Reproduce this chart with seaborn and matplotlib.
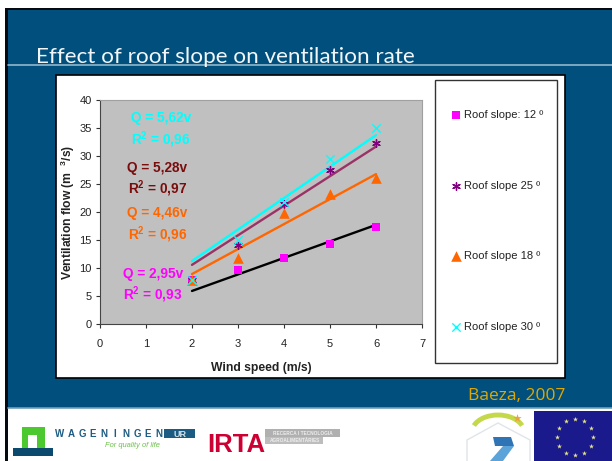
import numpy as np
import pandas as pd
import matplotlib
matplotlib.use("Agg")
import matplotlib.pyplot as plt
import seaborn as sns
from matplotlib.patches import Rectangle, Arc, Polygon

W, H = 612, 461

wind = [2, 3, 4, 5, 6]
labels = ["Roof slope: 12 º", "Roof slope 25 º", "Roof slope 18 º", "Roof slope 30 º"]
flow_12 = [7.8, 9.7, 11.7, 14.2, 17.3]
flow_25 = [7.8, 14.1, 21.5, 27.5, 32.3]
flow_18 = [7.8, 11.8, 19.8, 23.2, 26.0]
flow_30 = [7.8, 15.0, 21.8, 29.4, 35.0]
fit_12 = [5.9, 8.85, 11.8, 14.75, 17.7]
fit_25 = [10.56, 15.84, 21.12, 26.4, 31.68]
fit_18 = [8.92, 13.38, 17.84, 22.3, 26.76]
fit_30 = [11.24, 16.86, 22.48, 28.1, 33.72]

sns.set_theme(style="white")
plt.rcParams["font.family"] = ["Liberation Sans", "DejaVu Sans"]
plt.rcParams["mathtext.fontset"] = "custom"
plt.rcParams["mathtext.bf"] = "Liberation Sans:bold"
plt.rcParams["mathtext.rm"] = "Liberation Sans"

BLUE = "#004f7c"
colors = ["#ff00ff", "#800080", "#ff6600", "#00ffff"]
markers = ["s", (6, 2, 0), "^", "x"]
sizes = [26, 30, 58, 36]

fig = plt.figure(figsize=(W / 100, H / 100), dpi=100, facecolor="white")


def px(x, y):
    return x / W, 1 - y / H


# slide background, drawn in pixel coordinates
bg = fig.add_axes([0, 0, 1, 1], zorder=0)
bg.set_xlim(0, W)
bg.set_ylim(H, 0)
bg.axis("off")
bg.add_patch(Rectangle((5, 8), W, 420, fc=BLUE, ec="none"))
bg.add_patch(Rectangle((5, 8), W, 2.5, fc="#050a10", ec="none"))
bg.add_patch(Rectangle((8, 408), W, H, fc="white", ec="none"))
bg.add_patch(Rectangle((5, 8), 2.8, H, fc="#050a10", ec="none"))
bg.plot([8, W], [65, 65], color="#8fb8cc", lw=1.2)
bg.plot([8, W], [408, 408], color="#6f9fb8", lw=1.2)
bg.add_patch(Rectangle((56, 75), 509, 303, fc="white", ec="black", lw=1.2))
bg.add_patch(Rectangle((435, 80), 122, 283, fc="white", ec="#333333", lw=1))

# logos
bg.add_patch(Rectangle((22, 427), 23, 21, fc="#4cc92f", ec="none"))
bg.add_patch(Rectangle((28, 435), 9, 13, fc="white", ec="none"))
bg.add_patch(Rectangle((13, 448), 40, 8, fc="#0b4a6e", ec="none"))
bg.add_patch(Rectangle((164, 429), 31, 9, fc="#1d5c82", ec="none"))
bg.add_patch(Rectangle((265, 429), 75, 8, fc="#b0b0b0", ec="none"))
bg.add_patch(Rectangle((265, 437), 58, 7, fc="#bdbdbd", ec="none"))
bg.add_patch(Polygon([(467, 461), (467, 440), (498, 423), (530, 440), (530, 461)], closed=False, fc="none",
                     ec="#dfe5e8", lw=1))
bg.add_patch(Arc((498, 432), 52, 34, theta1=195, theta2=345, ec="#c5d84a", lw=3.5))
bg.scatter([517], [418], s=40, marker="*", color="#e8a33a", lw=0, zorder=3)
bg.add_patch(Polygon([(493, 437), (511, 437), (514, 446), (495, 446)], fc="#2f75b5", ec="none"))
bg.add_patch(Polygon([(503, 446), (514, 446), (503, 461), (490, 461)], fc="#5ba3d9", ec="none"))
bg.add_patch(Rectangle((534, 411), 78, 50, fc="#1a1a8c", ec="none"))
star_angle = np.linspace(0, 2 * np.pi, 12, endpoint=False)
bg.scatter(575 + 18 * np.cos(star_angle), 437 + 18 * np.sin(star_angle), s=14, marker="*", color="#e6e68a", lw=0)

# chart
ax = fig.add_axes([100 / W, 1 - 324 / H, 322 / W, 224 / H], zorder=1)
ax.set_facecolor("#c0c0c0")

series = [flow_12, flow_25, flow_18, flow_30]
fits = [fit_12, fit_25, fit_18, fit_30]
fit_colors = ["black", "#993366", "#ff6600", "#00ffff"]
for fit, c in zip(fits, fit_colors):
    sns.lineplot(x=wind, y=fit, color=c, lw=1.7, ax=ax, zorder=3)
for vals, c, m, s, lab in zip(series, colors, markers, sizes, labels):
    lw = 1 if m == "x" or isinstance(m, tuple) else 0
    sns.scatterplot(x=wind, y=vals, color=c, marker=m, s=s, linewidth=lw, ax=ax, zorder=4, label=lab)

ax.set_xlim(0, 7)
ax.set_ylim(0, 40)
ax.set_xticks(range(0, 8))
ax.set_yticks(range(0, 41, 5))
ax.tick_params(axis="both", length=3, width=0.8, color="#333333", labelsize=8, labelcolor="#222222",
               bottom=True, left=True)
ax.tick_params(axis="x", pad=7.5)
ax.tick_params(axis="y", pad=3)
for side in ["top", "right"]:
    ax.spines[side].set_color("#a0a0a0")
    ax.spines[side].set_linewidth(0.8)
for side in ["left", "bottom"]:
    ax.spines[side].set_color("#444444")
    ax.spines[side].set_linewidth(0.8)
ax.set_xlabel("Wind speed (m/s)", fontsize=8.7, fontweight="bold", labelpad=9.5, color="#222222")
ax.set_ylabel("Ventilation flow (m  $\\mathbf{^3}$/s)", fontsize=8.7, fontweight="bold", labelpad=1.5, color="#222222")

ax.legend(loc="upper left", bbox_to_anchor=(443.5 / W, 1 - 104.5 / H), bbox_transform=fig.transFigure, frameon=False,
          fontsize=8, labelspacing=5.45, handletextpad=0.1, handlelength=1.2, borderpad=0, labelcolor="#222222")

# equations next to the lines
eq_text = ["Q = 5,62v", "R$\\mathbf{^2}$ = 0,96", "Q = 5,28v", "R$\\mathbf{^2}$ = 0,97",
           "Q = 4,46v", "R$\\mathbf{^2}$ = 0,96", "Q = 2,95v", "R$\\mathbf{^2}$ = 0,93"]
eq_x = [161, 161, 157, 158, 157, 158, 153, 153]
eq_y = [118, 140, 168, 189, 213, 235, 274, 295]
eq_col = ["#00ffff", "#00ffff", "#7b0c0c", "#7b0c0c", "#ff6600", "#ff6600", "#ff00ff", "#ff00ff"]
for t, x, y, c in zip(eq_text, eq_x, eq_y, eq_col):
    fig.text(*px(x, y), t, color=c, fontsize=9.8, fontweight="bold", ha="center", va="center")

fig.text(*px(36, 63), "Effect of roof slope on ventilation rate", color="#f2f6f8", fontsize=16.2,
         family="Lato", fontweight="normal", va="baseline")
fig.text(*px(517, 396), "Baeza, 2007", color="#e0a800", fontsize=12.5, family="Open Sans", ha="center", va="center")

wur_letters = "WAGENINGEN"
for i, ch in enumerate(wur_letters):
    fig.text(*px(60 + i * 11, 434), ch, color="#1d5c82", fontsize=7, fontweight="bold", ha="center", va="center")
fig.text(*px(180, 434), "UR", color="#d5e3ea", fontsize=6.5, fontweight="bold", ha="center", va="center")
fig.text(*px(132, 445), "For quality of life", color="#6cc24a", fontsize=5.4, style="italic", ha="center", va="center")
fig.text(*px(236, 452), "IRTA", color="#cc0033", fontsize=18.5, fontweight="bold", ha="center", va="baseline")
fig.text(*px(303, 433), "RECERCA I TECNOLOGIA", color="#eeeeee", fontsize=3.4, fontweight="bold", ha="center", va="center")
fig.text(*px(295, 440.5), "AGROALIMENTÀRIES", color="#eeeeee", fontsize=3.4, fontweight="bold", ha="center", va="center")

fig.savefig("out.png", dpi=100)
